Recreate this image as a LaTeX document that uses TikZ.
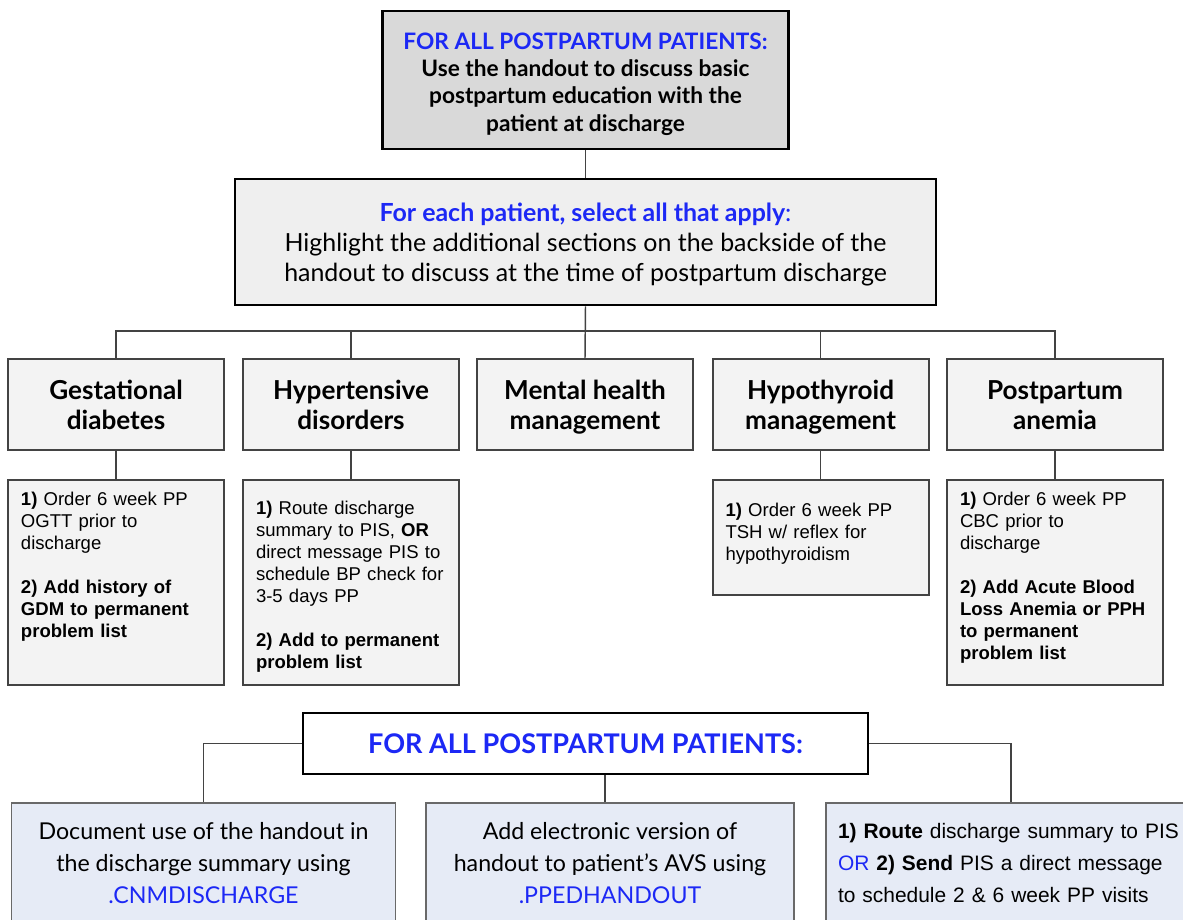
\documentclass[tikz,border=0pt]{standalone}
\usepackage{fontspec}
\setmainfont{Lato}
\newfontfamily\arialfont{Liberation Sans}
\usetikzlibrary{positioning}

\definecolor{hdrblue}{RGB}{28,40,245}
\definecolor{topgray}{RGB}{217,217,217}
\definecolor{selgray}{RGB}{239,239,239}
\definecolor{boxgray}{RGB}{243,243,243}
\definecolor{actblue}{RGB}{230,235,246}
\definecolor{edgegray}{RGB}{67,67,67}

\newcommand{\hilite}[1]{\textcolor{hdrblue}{#1}}
\newcommand{\catlift}{\rule{0pt}{21pt}}

\tikzset{
  link/.style={draw=edgegray, line width=1.1pt},
  topbox/.style={draw=black, line width=2.2pt, fill=topgray, align=center,
    minimum width=304.5pt, minimum height=103.5pt, inner sep=0pt,
    font=\fontsize{17}{20.4}\selectfont\bfseries},
  selbox/.style={draw=black, line width=2.2pt, fill=selgray, align=center,
    minimum width=525.75pt, minimum height=94.5pt, inner sep=0pt,
    font=\fontsize{18.7}{22.5}\selectfont},
  catbox/.style={draw=edgegray, line width=1.5pt, fill=boxgray, align=center,
    minimum width=162pt, minimum height=68.25pt, inner sep=0pt,
    font=\fontsize{19.6}{22.5}\selectfont\bfseries},
  planbox/.style={draw=edgegray, line width=1.5pt, fill=boxgray, align=left,
    anchor=north, text width=142.5pt, inner xsep=9.75pt, inner ysep=0pt,
    minimum height=153.75pt, font=\arialfont\fontsize{13.9}{16.5}\selectfont},
  allbox/.style={draw=black, line width=2.2pt, fill=white, text=hdrblue,
    minimum width=423.75pt, minimum height=45.75pt, inner sep=0pt,
    font=\fontsize{20.3}{24}\selectfont\bfseries},
  actbox/.style={draw=edgegray!80, line width=1.3pt, fill=actblue, align=center,
    minimum height=90pt, inner sep=0pt, font=\fontsize{17.4}{24}\selectfont},
}

\begin{document}
\begin{tikzpicture}[x=0.75pt, y=-0.75pt]
  \useasboundingbox (0,0) rectangle (1183,920);
  \clip (0,0) rectangle (1183,920);

  %%%%% TOP %%%%%
  \node[topbox] (intro) at (585.5,80)
    {\rule{0pt}{18.5pt}\hilite{FOR ALL POSTPARTUM PATIENTS:}\\Use the handout to discuss basic\\postpartum education with the\\patient at discharge};
  \node[selbox] (select) at (585.5,242)
    {\rule{0pt}{17pt}{\bfseries\hilite{For each patient, select all that apply}}\hilite{:}\\Highlight the additional sections on the backside of the\\handout to discuss at the time of postpartum discharge};
  \draw[link] (intro.south) -- (select.north);

  %%%%% CATEGORIES %%%%%
  \node[catbox] (gdm) at (116,404.5) {\catlift Gestational\\diabetes\strut};
  \node[catbox] (htn) at (351,404.5) {\catlift Hypertensive\\disorders\strut};
  \node[catbox] (mental) at (585,404.5) {\catlift Mental health\\management\strut};
  \node[catbox] (thyroid) at (820.5,404.5) {\catlift Hypothyroid\\management\strut};
  \node[catbox] (anemia) at (1055,404.5) {\catlift Postpartum\\anemia\strut};

  \coordinate (bus) at (585,331);
  \draw[link] (select.south) -- (mental.north);
  \draw[link] (gdm.north) |- (bus) -| (anemia.north);
  \draw[link] (htn.north) -- (htn.north |- bus);
  \draw[link] (thyroid.north) -- (thyroid.north |- bus);

  %%%%% PLANS %%%%%
  \node[planbox] (gdmplan) at (116,479)
    {\textbf{1)} Order 6 week PP\\OGTT prior to\\discharge\\[16.5pt]\textbf{2) Add history of}\\\textbf{GDM to permanent}\\\textbf{problem list}\rule[-26pt]{0pt}{0pt}};
  \node[planbox] (htnplan) at (351,479)
    {\rule{0pt}{17pt}\textbf{1)} Route discharge\\summary to PIS, \textbf{OR}\\direct message PIS to\\schedule BP check for\\3-5 days PP\\[16.5pt]\textbf{2) Add to permanent}\\\textbf{problem list}};
  \node[planbox, minimum height=86.25pt] (thyroidplan) at (820.5,479)
    {\textbf{1)} Order 6 week PP\\TSH w/ reflex for\\hypothyroidism\rule[-9pt]{0pt}{0pt}};
  \node[planbox] (anemiaplan) at (1055,479)
    {\textbf{1)} Order 6 week PP\\CBC prior to\\discharge\\[16.5pt]\textbf{2) Add Acute Blood}\\\textbf{Loss Anemia or PPH}\\\textbf{to permanent}\\\textbf{problem list}\rule[-10pt]{0pt}{0pt}};

  \draw[link] (gdm.south) -- (gdmplan.north);
  \draw[link] (htn.south) -- (htnplan.north);
  \draw[link] (thyroid.south) -- (thyroidplan.north);
  \draw[link] (anemia.south) -- (anemiaplan.north);

  %%%%% BOTTOM %%%%%
  \node[allbox] (allpp) at (585.5,743.5) {FOR ALL POSTPARTUM PATIENTS:};

  \node[actbox, minimum width=288pt] (cnm) at (203.5,863)
    {Document use of the handout in\\the discharge summary using\\\hilite{.CNMDISCHARGE}};
  \node[actbox, minimum width=276pt] (avs) at (610,863)
    {Add electronic version of\\handout to patient's AVS using\\\hilite{.PPEDHANDOUT}};
  \node[actbox, align=left, text width=259.5pt, inner xsep=9pt,
        font=\arialfont\fontsize{15.7}{24}\selectfont] (pis) at (1011,863)
    {\textbf{1) Route} discharge summary to PIS\\\hilite{OR} \textbf{2) Send} PIS a direct message\\to schedule 2 \& 6 week PP visits};

  \draw[link] (allpp.west) -| (cnm.north);
  \draw[link] (allpp.east) -| (pis.north);
  \draw[link] ([xshift=-3.75pt]avs.north) -- ([xshift=-3.75pt]avs.north |- allpp.south);
\end{tikzpicture}
\end{document}
